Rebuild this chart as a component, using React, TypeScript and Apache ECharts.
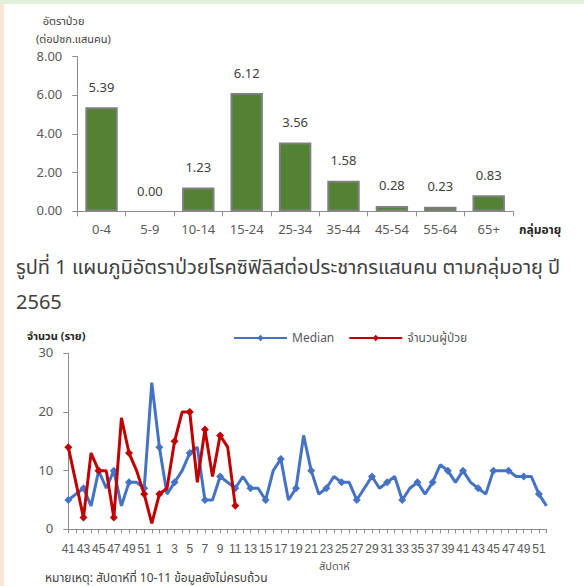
import React, { useEffect, useRef } from "react";
import * as echarts from "echarts";

// ---- Chart 1: rate per 100,000 population by age group ----
const ageGroups = ["0-4", "5-9", "10-14", "15-24", "25-34", "35-44", "45-54", "55-64", "65+"];
const rates = [5.39, 0.0, 1.23, 6.12, 3.56, 1.58, 0.28, 0.23, 0.83];
const rateTicks = { min: 0, max: 8, interval: 2 };

// ---- Chart 2: weekly cases vs median ----
const prevYearWeeks = ["41", "42", "43", "44", "45", "46", "47", "48", "49", "50", "51", "52"];
const currYearWeeks = Array.from({ length: 52 }, (_, i) => String(i + 1));
const weekCategories = [
  ...prevYearWeeks.map((w) => "2564-" + w),
  ...currYearWeeks.map((w) => "2565-" + w),
];
const medianValues = [
  5, 6, 7, 4, 10, 7, 10, 4, 8, 8, 7, 25,
  14, 6, 8, 10, 13, 14, 5, 5, 9, 8, 7,
  9, 7, 7, 5, 10, 12, 5, 7, 16, 10, 6, 7, 9, 8, 8, 5, 7, 9, 7, 8, 9, 5, 7, 8, 6, 8, 11, 10, 8, 10, 8, 7, 6, 10, 10, 10, 9, 9, 9, 6, 4,
];
const patientValues = [
  14, 8, 2, 13, 10, 10, 2, 19, 13, 10, 6, 1,
  6, 7, 15, 20, 20, 8, 17, 9, 16, 14, 4,
];
const caseTicks = { min: 0, max: 30, interval: 10 };
const seriesNames = ["Median", "จำนวนผู้ป่วย"];

const FONT = "Tahoma, 'Noto Sans Thai', 'Leelawadee UI', 'Liberation Sans', 'DejaVu Sans', sans-serif";
const AXIS_GRAY = "#8c8c8c";
const LABEL = "#595959";
const DARK = "#404040";

export default function App() {
  const ref = useRef<HTMLDivElement>(null);

  useEffect(() => {
    document.body.style.margin = "0";
    if (!ref.current) return;
    const chart = echarts.init(ref.current, undefined, { renderer: "svg" });

    const text = (x: number, y: number, t: string, size: number, opts: any = {}) => ({
      type: "text",
      x,
      y,
      style: {
        text: t,
        fontSize: size,
        fontFamily: FONT,
        fill: opts.fill || DARK,
        fontWeight: opts.bold ? "bold" : "normal",
        textVerticalAlign: "middle",
        textAlign: opts.align || "left",
      },
      silent: true,
    });

    chart.setOption({
      animation: false,
      backgroundColor: "#ffffff",
      textStyle: { fontFamily: FONT },
      grid: [
        { left: 77.3, top: 56.7, width: 435.6, height: 154.6 },
        { left: 68.3, top: 353.3, width: 478.2, height: 176 },
      ],
      legend: {
        data: seriesNames,
        left: 228,
        top: 327,
        itemWidth: 53,
        itemHeight: 8,
        itemGap: 14,
        textStyle: { fontSize: 12, color: LABEL, fontFamily: FONT },
      },
      xAxis: [
        {
          type: "category",
          gridIndex: 0,
          data: ageGroups,
          boundaryGap: true,
          axisLine: { lineStyle: { color: AXIS_GRAY, width: 1 } },
          axisTick: { show: true, length: 5, inside: false, lineStyle: { color: AXIS_GRAY } },
          axisLabel: { color: LABEL, fontSize: 13, margin: 12, fontFamily: FONT, interval: 0 },
        },
        {
          type: "category",
          gridIndex: 1,
          data: weekCategories,
          boundaryGap: false,
          axisLine: { lineStyle: { color: AXIS_GRAY, width: 1 } },
          axisTick: { show: true, length: 4, interval: 0, lineStyle: { color: AXIS_GRAY } },
          axisLabel: {
            color: LABEL,
            fontSize: 12,
            margin: 14,
            interval: 1,
            fontFamily: "Tahoma, 'Liberation Sans', sans-serif",
            formatter: (v: string) => v.replace(/^.*-/, ""),
          },
        },
      ],
      yAxis: [
        {
          type: "value",
          gridIndex: 0,
          min: rateTicks.min,
          max: rateTicks.max,
          interval: rateTicks.interval,
          axisLine: { show: true, lineStyle: { color: AXIS_GRAY, width: 1 } },
          axisTick: { show: true, length: 5, lineStyle: { color: AXIS_GRAY } },
          splitLine: { show: false },
          axisLabel: {
            color: LABEL,
            fontSize: 13,
            margin: 15,
            fontFamily: FONT,
            formatter: (v: number) => v.toFixed(2),
          },
        },
        {
          type: "value",
          gridIndex: 1,
          min: caseTicks.min,
          max: caseTicks.max,
          interval: caseTicks.interval,
          axisLine: { show: true, lineStyle: { color: AXIS_GRAY, width: 1 } },
          axisTick: { show: true, length: 5, lineStyle: { color: AXIS_GRAY } },
          splitLine: { show: false },
          axisLabel: { color: LABEL, fontSize: 13, margin: 15, fontFamily: FONT },
        },
      ],
      series: [
        {
          type: "bar",
          xAxisIndex: 0,
          yAxisIndex: 0,
          data: rates.map((v) => (v === 0 ? { value: v, itemStyle: { borderWidth: 0 } } : v)),
          barCategoryGap: "33%",
          itemStyle: { color: "#548235", borderColor: "#7f7f7f", borderWidth: 2 },
          label: {
            show: true,
            position: "top",
            distance: 13,
            fontSize: 13,
            color: DARK,
            fontFamily: FONT,
            formatter: (p: any) => Number(p.value).toFixed(2),
          },
        },
        {
          name: seriesNames[0],
          type: "line",
          xAxisIndex: 1,
          yAxisIndex: 1,
          data: medianValues,
          symbol: "diamond",
          symbolSize: 8,
          lineStyle: { color: "#4472c4", width: 3 },
          itemStyle: { color: "#4472c4" },
          z: 2,
        },
        {
          name: seriesNames[1],
          type: "line",
          xAxisIndex: 1,
          yAxisIndex: 1,
          data: patientValues,
          symbol: "diamond",
          symbolSize: 8,
          lineStyle: { color: "#c00000", width: 3 },
          itemStyle: { color: "#c00000" },
          z: 3,
        },
      ],
      graphic: [
        { type: "rect", shape: { x: 0, y: 0, width: 584, height: 4 }, style: { fill: "#e2efd9" }, silent: true },
        { type: "rect", shape: { x: 0, y: 4, width: 4, height: 582 }, style: { fill: "#fbe5d6" }, silent: true },
        text(42.7, 21.7, "อัตราป่วย", 11),
        text(36, 39, "(ต่อปชก.แสนคน)", 11),
        text(519, 230, "กลุ่มอายุ", 12, { bold: true, fill: "#262626" }),
        text(16, 268, "รูปที่ 1 แผนภูมิอัตราป่วยโรคซิฟิลิสต่อประชากรแสนคน ตามกลุ่มอายุ ปี", 20),
        text(16, 303, "2565", 20),
        text(27, 336, "จำนวน (ราย)", 11, { bold: true, fill: "#262626" }),
        text(319, 566, "สัปดาห์", 11, { fill: LABEL }),
        text(45, 578, "หมายเหตุ: สัปดาห์ที่ 10-11 ข้อมูลยังไม่ครบถ้วน", 12),
      ],
    });

    return () => chart.dispose();
  }, []);

  return <div ref={ref} style={{ position: "absolute", left: 0, top: 0, width: 584, height: 586 }} />;
}
